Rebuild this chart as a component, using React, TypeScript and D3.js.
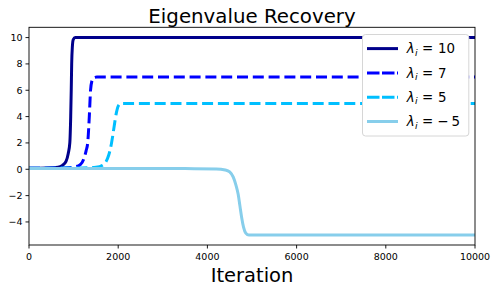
import * as d3 from 'd3';

// tick values
const xTicks = [0, 2000, 4000, 6000, 8000, 10000];
const yTicks = [-4, -2, 0, 2, 4, 6, 8, 10];

// [iteration, value]
const lambda10: [number, number][] = [
  [0, 0.08], [400, 0.1], [650, 0.15], [750, 0.3], [830, 0.6], [880, 1.2], [915, 2.0],
  [935, 4.0], [947, 6.0], [957, 8.0], [972, 9.3], [992, 9.85], [1035, 10], [10000, 10],
];
const lambda7: [number, number][] = [
  [0, 0.08], [800, 0.1], [1050, 0.2], [1150, 0.35], [1230, 0.8], [1280, 1.4], [1316, 2.0],
  [1352, 4.0], [1380, 6.0], [1410, 6.7], [1450, 6.95], [1520, 7.0], [10000, 7.0],
];
const lambda5: [number, number][] = [
  [0, 0.08], [1200, 0.1], [1500, 0.15], [1650, 0.3], [1730, 0.6], [1790, 1.1], [1840, 1.8],
  [1880, 2.6], [1920, 3.5], [1960, 4.3], [2000, 4.8], [2060, 5.0], [10000, 5.0],
];
const lambdaNeg5: [number, number][] = [
  [0, 0.05], [3500, 0.05], [4200, 0.03], [4400, -0.05], [4500, -0.2], [4580, -0.6], [4640, -1.2],
  [4690, -1.9], [4730, -2.8], [4770, -3.7], [4810, -4.4], [4860, -4.85], [4930, -5.0], [10000, -5.0],
];

const labels = ['10', '7', '5', '\u22125'];
const seriesData = [lambda10, lambda7, lambda5, lambdaNeg5];
const colors = ['#00008b', '#0000ff', '#00bfff', '#87ceeb'];
const dashes = [null, '11,4.8', '11,4.8', null];

const W = 498;
const H = 292;
const m = { left: 29, right: 475, top: 27.3, bottom: 245 };
const font = 'DejaVu Sans, sans-serif';

export default function App() {
  const x = d3.scaleLinear().domain([0, 10000]).range([m.left, m.right]);
  const y = d3.scaleLinear().domain([-5.75, 10.78]).range([m.bottom, m.top]);
  const line = d3
    .line<[number, number]>()
    .x((d) => x(d[0]))
    .y((d) => y(d[1]))
    .curve(d3.curveMonotoneX);

  const legX = 362.5;
  const legY = 34.5;
  const rowY = (i: number) => 48.6 + i * 24.3;

  return (
    <svg
      width={W}
      height={H}
      style={{ position: 'absolute', left: 0, top: 0, background: '#fff' }}
      fontFamily={font}
    >
      <defs>
        <clipPath id="plot">
          <rect x={m.left} y={m.top} width={m.right - m.left} height={m.bottom - m.top} />
        </clipPath>
      </defs>
      <rect x={0} y={0} width={W} height={H} fill="#fff" />

      <g clipPath="url(#plot)">
        {seriesData.map((d, i) => (
          <path
            key={i}
            d={line(d) ?? ''}
            fill="none"
            stroke={colors[i]}
            strokeWidth={3}
            strokeDasharray={dashes[i] ?? undefined}
            strokeLinejoin="round"
          />
        ))}
      </g>

      {/* spines */}
      <rect
        x={m.left}
        y={m.top}
        width={m.right - m.left}
        height={m.bottom - m.top}
        fill="none"
        stroke="#000"
        strokeWidth={0.9}
      />

      {/* x ticks */}
      {xTicks.map((t) => (
        <g key={t}>
          <line x1={x(t)} x2={x(t)} y1={m.bottom} y2={m.bottom + 3.5} stroke="#000" strokeWidth={0.9} />
          <text x={x(t)} y={260} fontSize={9.5} textAnchor="middle" fill="#000">
            {t}
          </text>
        </g>
      ))}

      {/* y ticks */}
      {yTicks.map((t) => (
        <g key={t}>
          <line x1={m.left - 3.5} x2={m.left} y1={y(t)} y2={y(t)} stroke="#000" strokeWidth={0.9} />
          <text x={22.5} y={y(t) + 3.5} fontSize={9.5} textAnchor="end" fill="#000">
            {t < 0 ? `\u2212${-t}` : t}
          </text>
        </g>
      ))}

      <text x={(m.left + m.right) / 2} y={22.7} fontSize={19.8} textAnchor="middle" fill="#000">
        Eigenvalue Recovery
      </text>
      <text x={(m.left + m.right) / 2} y={281.7} fontSize={19.5} textAnchor="middle" fill="#000">
        Iteration
      </text>

      {/* legend */}
      <rect
        x={legX}
        y={legY}
        width={106.3}
        height={101.5}
        rx={3}
        fill="#fff"
        stroke="#d6d6d6"
        strokeWidth={1}
      />
      {labels.map((lab, i) => {
        const neg = lab.startsWith('\u2212');
        return (
          <g key={i}>
            <line
              x1={dashes[i] ? 367 : 368.5}
              x2={dashes[i] ? 398 : 396.5}
              y1={rowY(i)}
              y2={rowY(i)}
              stroke={colors[i]}
              strokeWidth={3}
              strokeDasharray={dashes[i] ? '12.5,2.5' : undefined}
              strokeLinecap={dashes[i] ? 'butt' : 'square'}
            />
            <g fontSize={13.4} fill="#000">
              <text x={406.8} y={rowY(i) + 4.7} fontStyle="italic">
                λ
              </text>
              <text x={415} y={rowY(i) + 7.2} fontStyle="italic" fontSize={9.4}>
                i
              </text>
              <text x={422} y={rowY(i) + 4.7}>
                =
              </text>
              {neg ? (
                <>
                  <text x={437.3} y={rowY(i) + 4.7}>
                    {'\u2212'}
                  </text>
                  <text x={451.5} y={rowY(i) + 4.7}>
                    {lab.slice(1)}
                  </text>
                </>
              ) : (
                <text x={438} y={rowY(i) + 4.7}>
                  {lab}
                </text>
              )}
            </g>
          </g>
        );
      })}
    </svg>
  );
}
